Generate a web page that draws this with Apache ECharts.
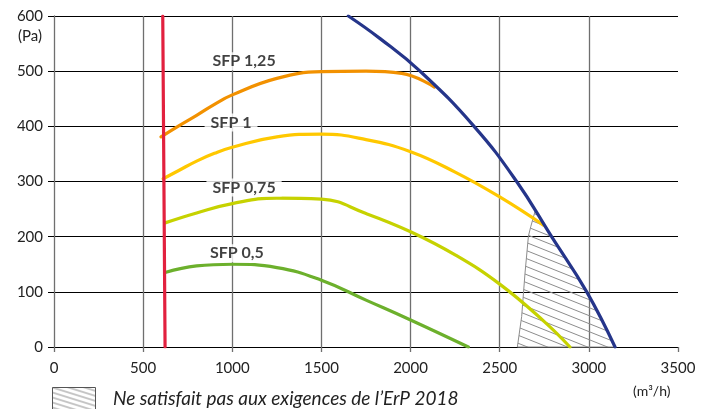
<!DOCTYPE html>
<html>
<head>
<meta charset="utf-8">
<script src="https://cdn.jsdelivr.net/npm/echarts@6/dist/echarts.min.js"></script>
<style>
html,body{margin:0;padding:0;background:#fff;}
#c{width:703px;height:409px;}
</style>
</head>
<body>
<div id="c"></div>
<script>
// ---- data ----
const xTicks = [0, 500, 1000, 1500, 2000, 2500, 3000, 3500];
const yTicks = [0, 100, 200, 300, 400, 500, 600];

const redX = [610, 623];
const redY = [600, 0];

const blueX = [1651, 1829, 2053, 2356, 2595, 2791, 2988, 3147];
const blueY = [600, 559, 500, 400, 300, 200, 100, 0];

const orangeX = [600, 700, 800, 900, 1000, 1250, 1500, 1750, 1950, 2134];
const orangeY = [381, 401, 420, 440, 457, 487, 499, 500, 496, 471];

const yellowX = [612, 700, 800, 900, 1000, 1250, 1500, 1750, 2000, 2250, 2500, 2745];
const yellowY = [305, 320, 337, 351, 362, 381, 386, 376, 354, 317, 272, 221];

const ygreenX = [623, 800, 1000, 1250, 1500, 1750, 2000, 2250, 2500, 2750, 2894];
const ygreenY = [225, 243, 260, 270, 268, 242, 209, 167, 114, 46, 0];

const greenX = [623, 800, 1000, 1250, 1500, 1750, 2000, 2324];
const greenY = [135, 147, 150, 144, 121, 85, 49, 0];

// left edge of the hatched zone (top to bottom); right edge is the blue curve
const hatchLeftX = [2700, 2674, 2661, 2642, 2623, 2599];
const hatchLeftY = [248, 218, 201, 134, 55, 0];

const sfpNames = ['SFP 1,25', 'SFP 1', 'SFP 0,75', 'SFP 0,5'];
const sfpX = [1066, 993, 1066, 1026];
const sfpY = [518, 407, 289, 170];

const legendText = 'Ne satisfait pas aux exigences de l\u2019ErP 2018';

// ---- helpers ----
const zip = (xs, ys) => xs.map((x, i) => [x, ys[i]]);

function makeHatch(w, h) {
  const c = document.createElement('canvas');
  c.width = w; c.height = h;
  const g = c.getContext('2d');
  g.strokeStyle = '#8c8c8c';
  g.lineWidth = 1;
  for (const off of [-h, 0, h]) {
    g.beginPath();
    g.moveTo(0, off);
    g.lineTo(w, off + h);
    g.stroke();
  }
  return c;
}
const hatch = makeHatch(20, 8);
const hatchSmall = makeHatch(16, 5);

const font = 'Lato';
const chart = echarts.init(document.getElementById('c'), null, {renderer: 'canvas'});

function lineSeries(name, xs, ys, color, z) {
  return {
    name: name, type: 'line', data: zip(xs, ys), smooth: 0.45,
    symbol: 'none', z: z,
    lineStyle: {color: color, width: 3.2, cap: 'round'},
    silent: true
  };
}

const option = {
  backgroundColor: '#fff',
  animation: false,
  grid: {left: 54, right: 25, top: 16, bottom: 62},
  xAxis: {
    type: 'value', min: xTicks[0], max: xTicks[xTicks.length - 1], interval: 500,
    axisLine: {show: true, lineStyle: {color: '#000', width: 1}},
    axisTick: {show: true, length: 5, lineStyle: {color: '#6f6f6f', width: 1.3}},
    axisLabel: {color: '#222', fontFamily: font, fontSize: 15, margin: 14,
      formatter: v => String(v)},
    splitLine: {show: true, showMinLine: false, showMaxLine: false,
      lineStyle: {color: '#6f6f6f', width: 1.3}}
  },
  yAxis: {
    type: 'value', min: yTicks[0], max: yTicks[yTicks.length - 1], interval: 100,
    axisLine: {show: true, lineStyle: {color: '#6f6f6f', width: 1.3}},
    axisTick: {show: true, length: 6, lineStyle: {color: '#000', width: 1}},
    axisLabel: {color: '#222', fontFamily: font, fontSize: 15, margin: 11,
      formatter: v => String(v)},
    splitLine: {show: true, showMinLine: false, lineStyle: {color: '#000', width: 1}}
  },
  series: [
    {
      type: 'custom', z: 1, silent: true,
      data: [[hatchLeftX[0], hatchLeftY[0]]],
      renderItem: function (params, api) {
        const pts = [];
        for (let i = 0; i < hatchLeftX.length; i++) pts.push(api.coord([hatchLeftX[i], hatchLeftY[i]]));
        for (let i = blueX.length - 1; i >= 0; i--) {
          if (blueY[i] < hatchLeftY[0]) pts.push(api.coord([blueX[i], blueY[i]]));
        }
        return {
          type: 'polygon',
          shape: {points: pts},
          style: {fill: {image: hatch, repeat: 'repeat'}, stroke: '#8c8c8c', lineWidth: 1}
        };
      }
    },
    lineSeries('SFP 0,5', greenX, greenY, '#6cb02c', 3),
    lineSeries('SFP 0,75', ygreenX, ygreenY, '#c6d200', 3),
    lineSeries('SFP 1', yellowX, yellowY, '#ffc800', 3),
    lineSeries('SFP 1,25', orangeX, orangeY, '#f29100', 3),
    lineSeries('max', blueX, blueY, '#25358a', 4),
    Object.assign(lineSeries('min', redX, redY, '#e2213f', 5), {smooth: false}),
    {
      type: 'scatter', z: 6, silent: true, symbolSize: 0,
      data: sfpNames.map((n, i) => ({name: n, value: [sfpX[i], sfpY[i]]})),
      label: {
        show: true, position: 'inside', formatter: '{b}',
        fontFamily: font, fontWeight: 'bold', fontSize: 16, color: '#111',
        backgroundColor: '#fff', padding: [1, 6]
      }
    }
  ],
  graphic: [
    {type: 'text', left: 18, top: 29, style: {text: '(Pa)', font: '15px Lato', fill: '#222'}},
    {type: 'text', left: 633, top: 384, style: {text: '(m\u00b3/h)', font: '14px Lato', fill: '#222'}},
    {type: 'rect', left: 52, top: 387, shape: {width: 43, height: 26},
      style: {fill: {image: hatchSmall, repeat: 'repeat'}, stroke: '#555', lineWidth: 1}},
    {type: 'text', left: 113, top: 389, style: {text: legendText, font: 'italic 19px Lato', fill: '#222'}}
  ]
};
chart.setOption(option);
</script>
</body>
</html>
